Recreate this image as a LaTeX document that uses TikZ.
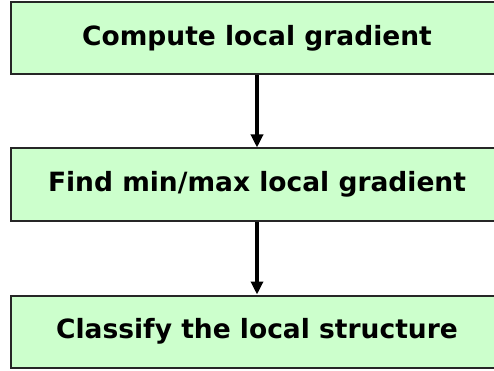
\documentclass[tikz,border=0pt]{standalone}
\usepackage{fontspec}
\setmainfont{DejaVu Sans}
\usetikzlibrary{arrows.meta}
\definecolor{boxgreen}{HTML}{CCFFCC}
\begin{document}
\begin{tikzpicture}[x=1pt, y=-1pt,
  stagebox/.style={shape=rectangle, draw=black!85, fill=boxgreen, line width=2pt, minimum width=492pt, minimum height=72pt, font=\bfseries\fontsize{26.5}{30}\selectfont},
  flow/.style={-{Triangle[width=12pt,length=13pt]}, line width=3.2pt, draw=black}]
\useasboundingbox (0,0) rectangle (494,371);
\node[stagebox] (grad) at (257, 38) {Compute local gradient};
\node[stagebox] (minmax) at (257, 184.5) {Find min/max local gradient};
\node[stagebox] (classify) at (257, 331.5) {Classify the local structure};
\path [flow] (grad) edge (minmax);
\path [flow] (minmax) edge (classify);
\end{tikzpicture}
\end{document}
